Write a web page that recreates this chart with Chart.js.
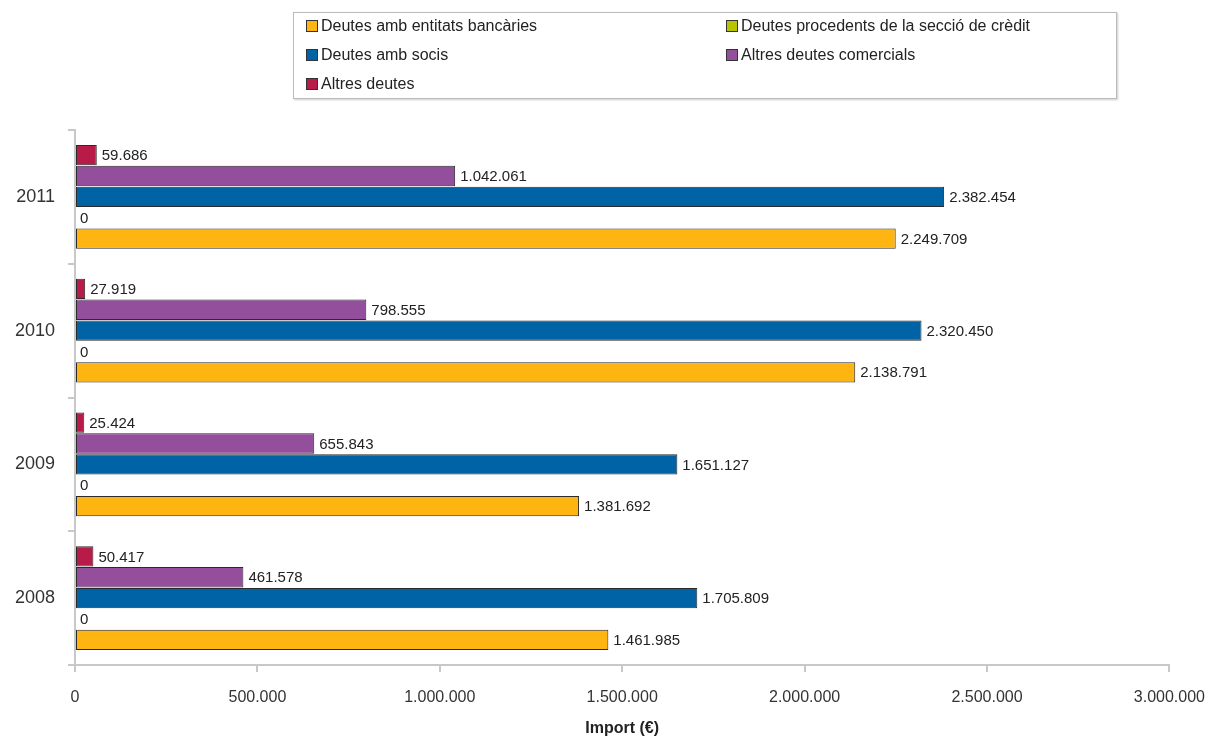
<!DOCTYPE html>
<html>
<head>
<meta charset="utf-8">
<script src="https://cdn.jsdelivr.net/npm/chart.js@4"></script>
<style>
  body { margin: 0; background: #fff; font-family: "Liberation Sans", Arial, sans-serif; }
  #wrap { position: relative; width: 1221px; height: 742px; }
  #legend {
    position: absolute; left: 293px; top: 12px; width: 824px; height: 87px;
    border: 1px solid #bbb; box-shadow: 1px 1px 2px #ccc; box-sizing: border-box;
  }
  .item { position: absolute; font-size: 16px; color: #222; white-space: nowrap; }
  .item span { display: inline-block; width: 10px; height: 10px; border: 1px solid #333; margin-right: 3px; vertical-align: -1px; }
</style>
</head>
<body>
<div id="wrap">
  <canvas id="chart" width="1221" height="742"></canvas>
  <div id="legend"></div>
</div>
<script>
// Categories top to bottom
const years = ['2011', '2010', '2009', '2008'];

// Series values (same order as years)
const bancaries = [2249709, 2138791, 1381692, 1461985];
const seccioCredit = [0, 0, 0, 0];
const socis = [2382454, 2320450, 1651127, 1705809];
const comercials = [1042061, 798555, 655843, 461578];
const altres = [59686, 27919, 25424, 50417];

const xTicks = [0, 500000, 1000000, 1500000, 2000000, 2500000, 3000000];

// format numbers with dots as thousands separator
function fmt(v) {
  return String(v).replace(/\B(?=(\d{3})+(?!\d))/g, '.');
}

// Legend order as in the picture, two columns
const legendItems = [
  { label: 'Deutes amb entitats bancàries', color: '#FFB511', x: 12, y: 4 },
  { label: 'Deutes procedents de la secció de crèdit', color: '#B8C400', x: 432, y: 4 },
  { label: 'Deutes amb socis', color: '#0063A6', x: 12, y: 33 },
  { label: 'Altres deutes comercials', color: '#934F9C', x: 432, y: 33 },
  { label: 'Altres deutes', color: '#B81B48', x: 12, y: 62 }
];
const legendBox = document.getElementById('legend');
legendItems.forEach(it => {
  const d = document.createElement('div');
  d.className = 'item';
  d.style.left = it.x + 'px';
  d.style.top = it.y + 'px';
  d.innerHTML = `<span style="background:${it.color}"></span>${it.label}`;
  legendBox.appendChild(d);
});

// Draw value labels to the right of each bar
const valueLabels = {
  id: 'valueLabels',
  afterDatasetsDraw(chart) {
    const ctx = chart.ctx;
    ctx.save();
    ctx.font = '15px "Liberation Sans", Arial, sans-serif';
    ctx.fillStyle = '#222';
    ctx.textBaseline = 'middle';
    chart.data.datasets.forEach((ds, i) => {
      chart.getDatasetMeta(i).data.forEach((bar, j) => {
        ctx.fillText(fmt(ds.data[j]), bar.x + 5, bar.y + 1);
      });
    });
    ctx.restore();
  }
};

const ds = (label, data, color, bw) => ({
  label, data, backgroundColor: color, borderColor: '#2a2a2a', borderWidth: bw,
  borderSkipped: false
});

new Chart(document.getElementById('chart'), {
  type: 'bar',
  data: {
    labels: years,
    datasets: [
      ds('Altres deutes', altres, '#B81B48', 1),
      ds('Altres deutes comercials', comercials, '#934F9C', 1),
      ds('Deutes amb socis', socis, '#0063A6', 1),
      ds('Deutes procedents de la secció de crèdit', seccioCredit, '#B8C400', 0),
      ds('Deutes amb entitats bancàries', bancaries, '#FFB511', 1)
    ]
  },
  options: {
    indexAxis: 'y',
    responsive: false,
    animation: false,
    layout: { padding: { top: 130, right: 50, left: 0, bottom: 0 } },
    categoryPercentage: 0.78,
    barPercentage: 0.98,
    plugins: {
      legend: { display: false },
      tooltip: { enabled: false }
    },
    scales: {
      x: {
        min: 0,
        max: 3000000,
        afterBuildTicks: axis => { axis.ticks = xTicks.map(v => ({ value: v })); },
        afterFit: axis => { axis.height = 77; },
        border: { color: '#c8c8c8', width: 2 },
        grid: { drawOnChartArea: false, drawTicks: true, tickLength: 7, color: '#c8c8c8', lineWidth: 2 },
        ticks: {
          color: '#333',
          padding: 16,
          font: { size: 16, family: '"Liberation Sans", Arial, sans-serif' },
          callback: v => fmt(v),
          maxRotation: 0
        },
        title: {
          display: true,
          text: 'Import (€)',
          color: '#222',
          padding: { top: 12 },
          font: { size: 16, weight: 'bold', family: '"Liberation Sans", Arial, sans-serif' }
        }
      },
      y: {
        afterFit: axis => { axis.width = 75; },
        border: { color: '#c8c8c8', width: 2 },
        grid: { drawOnChartArea: false, drawTicks: true, tickLength: 7, color: '#c8c8c8', lineWidth: 2, offset: true },
        ticks: {
          color: '#333',
          padding: 13,
          font: { size: 18, family: '"Liberation Sans", Arial, sans-serif' }
        }
      }
    }
  },
  plugins: [valueLabels]
});
</script>
</body>
</html>
